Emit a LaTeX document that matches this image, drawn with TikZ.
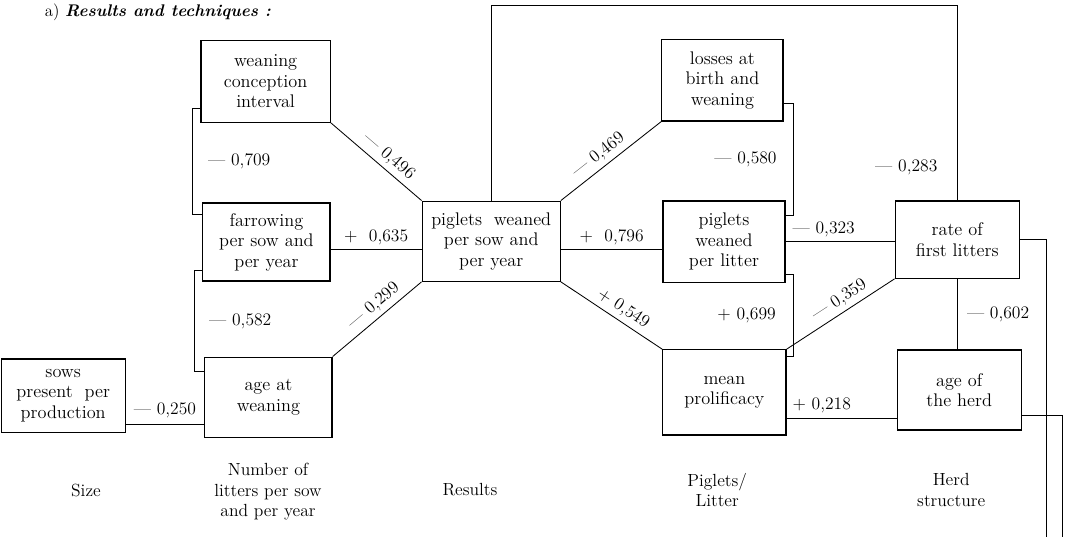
\documentclass[tikz,border=0pt]{standalone}
\usepackage{tikz}
\usetikzlibrary{positioning,calc}
\tikzset{
  box/.style={draw, line width=0.9pt, align=center, minimum width=#1, minimum height=2cm, inner sep=1pt, font=\fontsize{13}{14.6}\selectfont},
  box/.default={3.1cm},
  conn/.style={line width=0.6pt},
  lbl/.style={font=\fontsize{12.5}{14}\selectfont, inner sep=1pt},
  colhead/.style={font=\fontsize{12.5}{14.6}\selectfont, align=center}
}

\begin{document}
\begin{tikzpicture}
        \useasboundingbox (0,0) rectangle (26.775,-13.425);
        \node[anchor=west, font=\large] (ttl) at (1.0,-0.3) {a) \textbf{\textit{Results and techniques :}}};

        \node[box=3.23cm, minimum height=2.05cm] (wci) at (6.64,-2.03) {weaning\\conception\\interval};
        \node[box=3.18cm, minimum height=1.95cm] (far) at (6.66,-6.05) {farrowing\\per sow and\\per year};
        \node[box=3.18cm] (aw) at (6.71,-9.93) {age at\\weaning};
        \node[box=3.1cm, minimum height=1.83cm] (sows) at (1.58,-9.89) {sows\\present\ \ per\\production};
        \node[box=3.45cm] (pws) at (12.28,-6.03) {piglets\ \ weaned\\per sow and\\per year};
        \node[box=3.03cm, minimum height=2.03cm] (loss) at (18.06,-2.01) {losses at\\birth and\\weaning};
        \node[box=3.05cm, minimum height=2.03cm] (pwl) at (18.1,-6.04) {piglets\\weaned\\per litter};
        \node[box=3.08cm, minimum height=2.13cm] (mp) at (18.11,-9.81) {mean\\prolificacy};
        \node[box=3.1cm, minimum height=1.93cm] (rfl) at (23.93,-5.99) {rate of\\first litters};
        \node[box=3.1cm] (ah) at (23.98,-9.75) {age of\\the herd};

        % free ends at the bottom right
        \coordinate (outa) at (26.15,-13.425);
        \coordinate (outb) at (26.55,-13.425);

        % left half
        \draw[conn] ([yshift=0.35cm]wci.south west) -- ++(-0.2,0) |- node[lbl, right=0.35cm, pos=0.25] {--- 0,709} ([yshift=-0.3cm]far.north west);
        \draw[conn] ([yshift=0.28cm]far.south west) -- ++(-0.2,0) |- node[lbl, right=0.33cm, pos=0.25] {--- 0,582} ([yshift=-0.38cm]aw.north west);
        \draw[conn] ([yshift=-0.72cm]sows.east) -- node[lbl, above=3pt] {--- 0,250} ([yshift=-0.72cm]sows.east -| aw.west);
        \draw[conn] (wci.south east) -- node[lbl, sloped, above=2pt, pos=0.55] {--- 0,496} (pws.north west);
        \draw[conn] ([yshift=-0.18cm]far.east) -- node[lbl, above=2pt] {+\ \ 0,635} ([yshift=-0.18cm]far.east -| pws.west);
        \draw[conn] (aw.north east) -- node[lbl, sloped, above=2pt, pos=0.55] {--- 0,299} (pws.south west);

        % right half
        \draw[conn] (pws.north) -- ++(0,4.87) -| node[lbl, left=0.45cm, pos=0.915] {--- 0,283} (rfl.north);
        \draw[conn] (pws.north east) -- node[lbl, sloped, above=2pt, pos=0.45] {--- 0,469} (loss.south west);
        \draw[conn] ([yshift=-0.2cm]pws.east) -- node[lbl, above=2pt] {+\ \ 0,796} ([yshift=-0.2cm]pws.east -| pwl.west);
        \draw[conn] (pws.south east) -- node[lbl, sloped, above=2pt, pos=0.55] {+\ 0,549} (mp.north west);
        \draw[conn] ([yshift=0.45cm]loss.south east) -- ++(0.25,0) |- node[lbl, left=0.38cm, pos=0.25] {--- 0,580} ([yshift=-0.38cm]pwl.north east);
        \draw[conn] ([yshift=0.22cm]pwl.south east) -- ++(0.2,0) |- node[lbl, left=0.4cm, pos=0.25] {+\ 0,699} ([yshift=-0.18cm]mp.north east);
        \draw[conn] (pwl.east) -- node[lbl, above=2pt, pos=0.35] {--- 0,323} (pwl.east -| rfl.west);
        \draw[conn] (mp.north east) -- node[lbl, sloped, above=2pt, pos=0.55] {--- 0,359} (rfl.south west);
        \draw[conn] (rfl.south) -- node[lbl, right=0.2cm] {--- 0,602} (rfl.south |- ah.north);
        \draw[conn] ([yshift=-0.7cm]ah.west) -- node[lbl, above=2pt, pos=0.68] {+\ 0,218} ([yshift=-0.7cm]ah.west -| mp.east);
        \draw[conn] (rfl.east) -| (outa);
        \draw[conn] ([yshift=-0.63cm]ah.east) -| (outb);

        % column headings
        \node[colhead] (hsize) at (2.15,-12.25) {Size};
        \node[colhead] (hlit) at (6.7,-12.3) {Number of\\litters per sow\\and per year};
        \node[colhead] (hres) at (11.75,-12.25) {Results};
        \node[colhead] (hpig) at (17.93,-12.25) {Piglets/\\Litter};
        \node[colhead] (hherd) at (23.78,-12.25) {Herd\\structure};
      \end{tikzpicture}
\end{document}
